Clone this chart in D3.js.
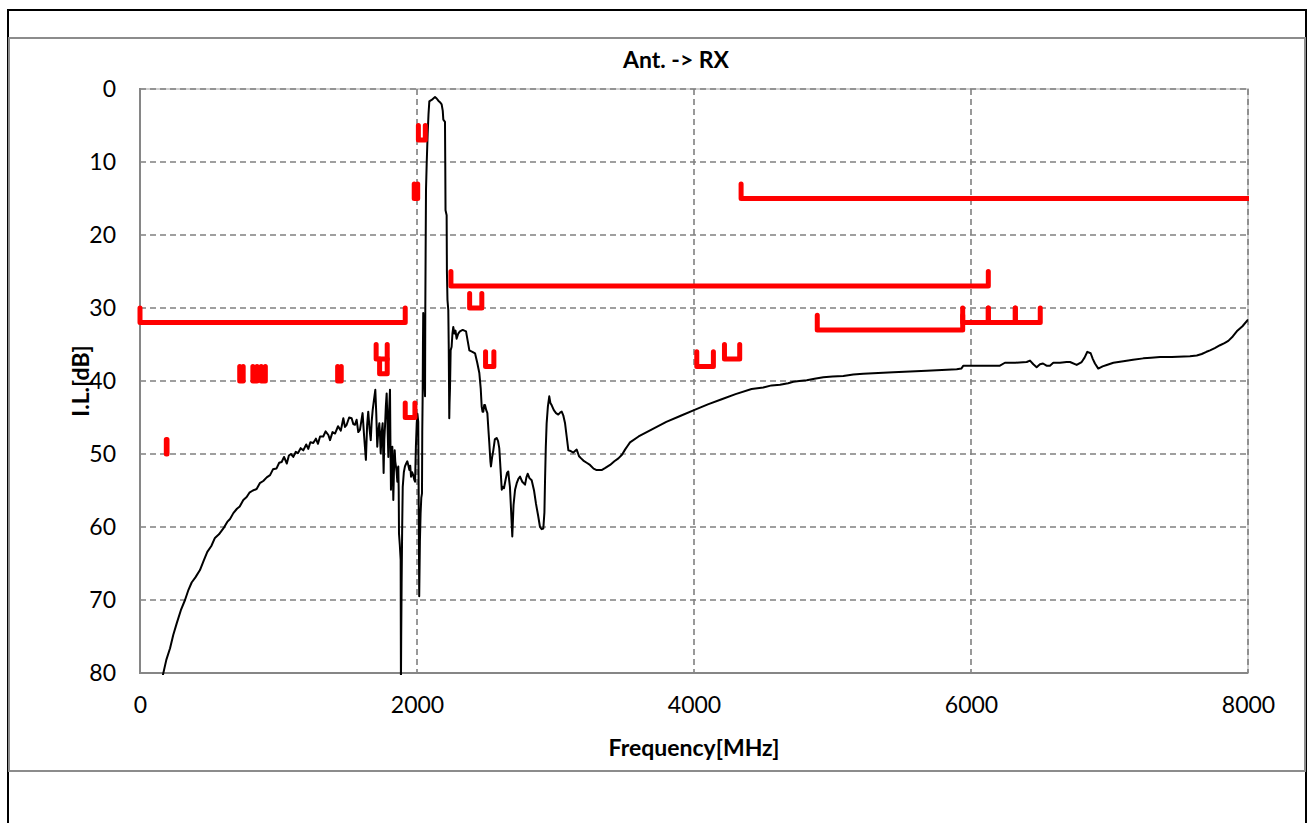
<!DOCTYPE html>
<html>
<head>
<meta charset="utf-8">
<script src="https://cdn.jsdelivr.net/npm/d3@7/dist/d3.min.js"></script>
<style>
  html, body { margin: 0; padding: 0; background: #fff; }
  svg { display: block; font-family: Lato, "Liberation Sans", sans-serif; }
</style>
</head>
<body>
<svg id="chart" width="1313" height="823"></svg>
<script>
// ---- data ----
const chartTitle = "Ant. -> RX";
const xLabel = "Frequency[MHz]";
const yLabel = "I.L.[dB]";
const xTicks = [0, 2000, 4000, 6000, 8000];
const yTicks = [0, 10, 20, 30, 40, 50, 60, 70, 80];

// measured insertion loss (MHz, dB)
const freq = [165,190,217,240,265,295,325,350,373,400,433,460,486,515,541,570,602,630,650,674,700,720,746,770,790,815,842,865,890,915,939,960,985,1005,1023,1040,1060,1075,1090,1107,1125,1140,1160,1179,1200,1215,1230,1251,1270,1285,1300,1323,1340,1360,1372,1390,1408,1430,1450,1468,1480,1492,1510,1528,1540,1552,1564,1576,1588,1598,1607,1618,1631,1640,1648,1657,1666,1673,1680,1690,1699,1706,1713,1720,1728,1733,1738,1745,1752,1755,1759,1764,1769,1775,1781,1787,1793,1799,1805,1808,1812,1817,1822,1826,1829,1834,1839,1843,1848,1853,1858,1862,1865,1868,1870,1876,1882,1884,1886,1889,1893,1897,1905,1913,1922,1930,1937,1945,1951,1957,1965,1973,1980,1986,1992,1998,2003,2009,2012,2016,2021,2026,2031,2036,2038,2041,2043,2045,2050,2055,2058,2060,2063,2065,2070,2077,2083,2089,2097,2106,2118,2130,2142,2154,2166,2178,2186,2190,2202,2204,2206,2214,2216,2220,2226,2229,2231,2233,2235,2238,2241,2243,2250,2256,2262,2270,2278,2286,2298,2310,2330,2354,2366,2378,2400,2419,2435,2450,2460,2467,2473,2479,2485,2491,2500,2508,2515,2522,2530,2534,2542,2551,2562,2575,2585,2594,2603,2612,2620,2628,2640,2650,2659,2665,2671,2680,2688,2697,2708,2720,2732,2744,2760,2780,2790,2799,2812,2828,2845,2859,2875,2888,2900,2912,2920,2924,2930,2936,2945,2955,2963,2972,2988,3004,3020,3035,3045,3056,3069,3080,3093,3110,3129,3141,3153,3170,3185,3201,3225,3249,3275,3297,3315,3333,3360,3394,3425,3454,3480,3502,3520,3538,3600,3700,3800,3900,4000,4100,4200,4300,4416,4500,4560,4621,4680,4717,4760,4814,4870,4934,5000,5078,5150,5222,5330,5439,5560,5680,5790,5897,5930,5945,6050,6130,6209,6245,6320,6402,6426,6450,6474,6498,6520,6545,6570,6594,6643,6690,6715,6763,6799,6820,6840,6864,6880,6895,6919,6950,6980,7028,7100,7170,7244,7300,7365,7450,7581,7630,7666,7700,7726,7760,7798,7830,7858,7890,7919,7960,8000];
const insertionLoss = [80.3,78.2,76.6,74.8,73.2,71.4,70.0,68.6,67.6,66.9,65.9,64.6,63.4,62.6,61.5,61.0,60.2,59.3,58.9,58.1,57.5,57.2,56.3,55.9,55.3,55.0,54.8,54.0,53.7,53.2,52.9,52.1,52.0,51.2,51.1,50.4,51.3,50.2,50.0,50.4,49.7,49.9,49.2,49.5,48.7,49.3,48.4,48.5,47.9,48.6,47.6,47.6,46.9,47.4,48.1,47.0,47.2,46.2,46.8,45.1,46.3,46.0,45.0,45.1,45.9,46.0,45.3,47.0,46.7,45.5,44.4,47.5,50.8,46.0,44.2,46.5,48.1,45.5,44.0,42.5,41.2,44.5,49.0,47.0,45.8,47.5,49.9,47.0,45.8,49.0,52.6,48.0,46.2,43.5,41.7,46.0,50.4,44.0,41.2,48.0,54.9,51.0,49.0,53.0,56.3,52.0,49.5,51.0,51.7,52.5,53.8,52.0,51.7,55.0,60.9,62.5,64.5,82.0,75.0,67.7,60.0,54.5,52.5,51.7,51.3,51.0,51.5,52.2,51.6,53.1,52.5,52.9,53.5,53.8,49.0,45.8,44.5,45.6,55.0,69.5,62.0,58.1,56.0,55.4,47.0,41.7,35.0,30.7,35.0,40.8,42.1,30.0,20.0,13.8,10.2,6.1,3.5,1.7,1.6,1.5,1.3,1.1,1.3,1.6,1.8,2.1,3.0,4.2,4.5,10.0,16.6,17.3,25.0,28.9,30.3,35.0,39.9,45.1,43.0,41.2,38.0,35.8,35.3,33.5,32.6,33.5,33.1,34.2,33.5,33.2,33.0,33.2,34.5,35.8,36.0,36.2,37.5,38.9,41.0,43.5,44.2,44.2,43.3,43.3,44.0,44.4,46.5,48.5,51.0,51.7,50.5,49.5,48.0,47.8,48.2,49.2,52.0,54.9,54.5,54.7,53.5,52.6,52.4,53.5,54.5,58.0,61.3,57.0,54.9,54.0,53.4,53.1,53.8,54.2,53.2,52.7,53.3,53.6,55.0,56.8,58.5,60.0,60.3,60.2,58.0,54.0,49.0,45.8,43.5,42.1,43.0,43.3,44.0,44.4,44.6,44.3,44.2,44.7,45.8,47.5,49.5,49.6,49.8,49.6,49.4,50.3,50.6,50.9,51.2,51.5,52.0,52.2,52.2,52.2,51.9,51.5,51.0,50.6,50.1,49.4,48.9,48.4,47.6,46.6,45.6,44.8,44.0,43.2,42.5,41.8,41.1,40.9,40.6,40.5,40.3,40.1,40.0,39.9,39.7,39.5,39.4,39.3,39.1,39.0,38.9,38.8,38.7,38.6,38.5,38.4,38.3,37.9,37.9,37.9,37.9,37.5,37.5,37.4,37.2,37.7,38.1,37.7,37.6,37.9,37.9,37.5,37.5,37.4,37.4,37.8,37.4,36.8,36.0,36.2,37.0,37.6,38.3,38.0,37.8,37.5,37.3,37.1,36.9,36.8,36.7,36.7,36.6,36.5,36.3,36.0,35.8,35.5,35.1,34.8,34.5,33.9,33.2,32.5,31.6];

// attenuation spec masks: band start/end (MHz), required level (dB), tick tip (dB)
const specStart = [0, 2245, 4340, 4890, 5940, 6125, 6320, 2010, 1980, 190, 720, 815, 875, 1427, 1705, 1730, 1915, 2380, 2495, 4020, 4220];
const specEnd   = [1915, 6125, 8500, 5940, 6125, 6320, 6500, 2060, 2005, 195, 745, 845, 905, 1453, 1785, 1785, 1985, 2468, 2555, 4140, 4330];
const specLevel = [32, 27, 15, 33, 32, 32, 32, 7, 15, 50, 40, 40, 40, 40, 37, 39, 45, 30, 38, 38, 37];
const specTip   = [30, 25, 13, 31, 30, 30, 30, 5, 13, 48, 38, 38, 38, 38, 35, 37, 43, 28, 36, 36, 35];

// ---- layout ----
const svg = d3.select("#chart");
const plot = { left: 140, right: 1248, top: 89, bottom: 673 };
const FONT = 23;

const x = d3.scaleLinear().domain([0, 8000]).range([plot.left, plot.right]);
const y = d3.scaleLinear().domain([0, 80]).range([plot.top, plot.bottom]);

// outer frames
svg.append("rect").attr("x", 8).attr("y", 10).attr("width", 1298).attr("height", 830)
  .attr("fill", "none").attr("stroke", "#000").attr("stroke-width", 2);
svg.append("rect").attr("x", 9).attr("y", 38).attr("width", 1296).attr("height", 733)
  .attr("fill", "none").attr("stroke", "#8c8c8c").attr("stroke-width", 2);

// plot area border (light)
svg.append("rect").attr("x", plot.left).attr("y", plot.top)
  .attr("width", plot.right - plot.left).attr("height", plot.bottom - plot.top)
  .attr("fill", "none").attr("stroke", "#d0d0d0").attr("stroke-width", 2);

// grid
const grid = svg.append("g");
grid.selectAll("line.h").data(yTicks.filter(d => d > 0 && d < 80)).join("line")
  .attr("x1", plot.left).attr("x2", plot.right)
  .attr("y1", d => y(d)).attr("y2", d => y(d))
  .attr("stroke", "#808080").attr("stroke-width", 1.6).attr("stroke-dasharray", "6,4");
grid.selectAll("line.v").data(xTicks.filter(d => d > 0)).join("line")
  .attr("y1", plot.top).attr("y2", plot.bottom)
  .attr("x1", d => x(d)).attr("x2", d => x(d))
  .attr("stroke", "#808080").attr("stroke-width", 1.6).attr("stroke-dasharray", "6,4");
grid.append("line").attr("x1", plot.left).attr("x2", plot.right).attr("y1", plot.top).attr("y2", plot.top)
  .attr("stroke", "#808080").attr("stroke-width", 1.6).attr("stroke-dasharray", "6,4");

// axes
const xAxis = d3.axisBottom(x).tickValues(xTicks).tickSize(0).tickPadding(24).tickFormat(d3.format("d"));
const yAxis = d3.axisLeft(y).tickValues(yTicks).tickSize(0).tickPadding(24).tickFormat(d3.format("d"));
const gx = svg.append("g").attr("transform", `translate(0,${plot.bottom})`).call(xAxis);
const gy = svg.append("g").attr("transform", `translate(${plot.left},0)`).call(yAxis);
[gx, gy].forEach(g => {
  g.select(".domain").remove();
  g.selectAll("text").attr("font-size", FONT).attr("fill", "#000").attr("font-family", "Lato, sans-serif");
});
svg.append("line").attr("x1", plot.left).attr("x2", plot.left).attr("y1", plot.top - 1).attr("y2", plot.bottom + 1)
  .attr("stroke", "#868686").attr("stroke-width", 2);
svg.append("line").attr("x1", plot.left).attr("x2", plot.right).attr("y1", plot.bottom).attr("y2", plot.bottom)
  .attr("stroke", "#868686").attr("stroke-width", 2);

// clip
const defs = svg.append("defs");
defs.append("clipPath").attr("id", "clipCurve").append("rect")
  .attr("x", plot.left).attr("y", plot.top).attr("width", plot.right - plot.left).attr("height", plot.bottom - plot.top + 2);
defs.append("clipPath").attr("id", "clipSpec").append("rect")
  .attr("x", plot.left - 6).attr("y", plot.top - 6).attr("width", plot.right - plot.left + 7).attr("height", plot.bottom - plot.top + 12);

// curve
const pts = freq.map((f, i) => [f, insertionLoss[i]]);
const line = d3.line().x(d => x(d[0])).y(d => y(d[1]));
svg.append("path").datum(pts).attr("clip-path", "url(#clipCurve)")
  .attr("d", line).attr("fill", "none").attr("stroke", "#000").attr("stroke-width", 2)
  .attr("stroke-linejoin", "round");

// spec masks
const specs = specStart.map((s, i) => ({ s, e: specEnd[i], lv: specLevel[i], tip: specTip[i] }));
svg.append("g").attr("clip-path", "url(#clipSpec)")
  .selectAll("path").data(specs).join("path")
  .attr("d", d => d3.line()([[x(d.s), y(d.tip)], [x(d.s), y(d.lv)], [x(d.e), y(d.lv)], [x(d.e), y(d.tip)]]))
  .attr("fill", "none").attr("stroke", "#ff0000").attr("stroke-width", 5)
  .attr("stroke-linecap", "round").attr("stroke-linejoin", "round");

// titles
svg.append("text").attr("x", 676).attr("y", 68).attr("text-anchor", "middle")
  .attr("font-size", FONT).attr("font-weight", "bold").text(chartTitle);
svg.append("text").attr("x", 694).attr("y", 756).attr("text-anchor", "middle")
  .attr("font-size", FONT).attr("font-weight", "bold").text(xLabel);
svg.append("text").attr("transform", "translate(89,381) rotate(-90)").attr("text-anchor", "middle")
  .attr("font-size", FONT).attr("font-weight", "bold").text(yLabel);
</script>
</body>
</html>
